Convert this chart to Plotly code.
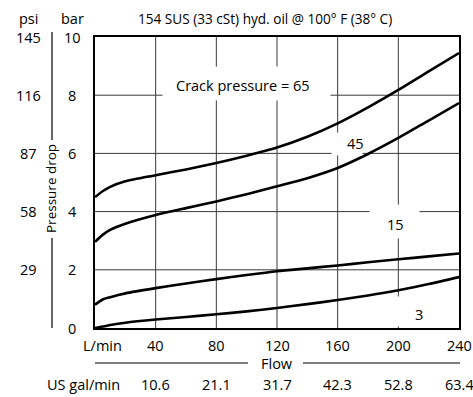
import plotly.graph_objects as go

# ---- data ----
flow = [0, 5, 10, 20, 40, 60, 80, 100, 120, 140, 160, 180, 200, 220, 240]
dp_65 = [4.5, 4.7, 4.85, 5.04, 5.25, 5.45, 5.67, 5.92, 6.2, 6.57, 7.03, 7.58, 8.18, 8.82, 9.45]
dp_45 = [2.96, 3.2, 3.37, 3.58, 3.88, 4.12, 4.35, 4.6, 4.87, 5.15, 5.5, 5.98, 6.53, 7.13, 7.73]
dp_15 = [0.8, 0.98, 1.06, 1.19, 1.37, 1.53, 1.68, 1.82, 1.95, 2.05, 2.15, 2.26, 2.36, 2.46, 2.56]
dp_3 = [0.0, 0.05, 0.1, 0.18, 0.29, 0.38, 0.47, 0.57, 0.69, 0.82, 0.96, 1.12, 1.3, 1.51, 1.75]

bar_ticks = [0, 2, 4, 6, 8, 10]
psi_ticks = [29, 58, 87, 116, 145]
psi_at_bar = [2, 4, 6, 8, 10]
lpm_ticks = [40, 80, 120, 160, 200, 240]
gpm_labels = ["10.6", "21.1", "31.7", "42.3", "52.8", "63.4"]

W, H = 473, 397
PX0, PX1, PY0, PY1 = 95, 459, 37, 328  # plot area in page pixels
L, R, T, B = PX0, W - PX1, PY0, H - PY1
FONT = "Open Sans"
FS = 14.5
GRID = "#3a3a3a"


def px_x(px):
    return (px - PX0) / (PX1 - PX0)


def px_y(py):
    return (PY1 - py) / (PY1 - PY0)


fig = go.Figure()
for ys in (dp_65, dp_45, dp_15, dp_3):
    fig.add_trace(go.Scatter(x=flow, y=ys, mode="lines",
                             line=dict(color="black", width=2.6, shape="spline", smoothing=0.7),
                             showlegend=False, hoverinfo="skip"))

shapes = []
# grid lines at the axis ticks
for v in lpm_ticks[:-1]:
    shapes.append(dict(type="line", xref="x", yref="paper", x0=v, x1=v, y0=0, y1=1,
                       line=dict(color=GRID, width=1), layer="below"))
for b in bar_ticks[1:-1]:
    shapes.append(dict(type="line", xref="paper", yref="y", x0=0, x1=1, y0=b, y1=b,
                       line=dict(color=GRID, width=1), layer="below"))
# pressure-drop bracket and flow rule
for y0, y1 in [(32, 140), (238, 328)]:
    shapes.append(dict(type="line", xref="paper", yref="paper",
                       x0=px_x(52), x1=px_x(52), y0=px_y(y0), y1=px_y(y1),
                       line=dict(color="black", width=1.2)))
for x0, x1 in [(95, 248), (303, 460)]:
    shapes.append(dict(type="line", xref="paper", yref="paper",
                       x0=px_x(x0), x1=px_x(x1), y0=px_y(363), y1=px_y(363),
                       line=dict(color="black", width=1.2)))

ann = []
# white boxes that break the grid under the curve labels
for x0, x1, y0, y1 in [(163, 330, 67, 100), (332, 362, 133, 155),
                       (370, 419, 205, 238), (382, 432, 297, 326)]:
    ann.append(dict(text="&nbsp;", x=px_x((x0 + x1) / 2), y=px_y((y0 + y1) / 2),
                    width=x1 - x0, height=y1 - y0, bgcolor="white", borderpad=0))
ann.append(dict(text="154 SUS (33 cSt) hyd. oil @ 100° F (38° C)", x=px_x(265), y=px_y(18),
                font_size=13.6))
ann.append(dict(text="psi", x=px_x(28), y=px_y(18)))
ann.append(dict(text="bar", x=px_x(72), y=px_y(18)))
for b in bar_ticks:
    ann.append(dict(text=str(b), x=px_x(72), y=b, yref="y"))
for p, b in zip(psi_ticks, psi_at_bar):
    ann.append(dict(text=str(p), x=px_x(28), y=b, yref="y"))
ann.append(dict(text="Pressure drop", x=px_x(51), y=px_y(189), textangle=-90, font_size=13.5))
ann.append(dict(text="L/min", x=px_x(102), y=px_y(345)))
for v in lpm_ticks:
    ann.append(dict(text=str(v), x=v, xref="x", y=px_y(345)))
ann.append(dict(text="Flow", x=0.5, y=px_y(363)))
ann.append(dict(text="US gal/min", x=px_x(83), y=px_y(384)))
for v, g in zip(lpm_ticks, gpm_labels):
    ann.append(dict(text=g, x=v, xref="x", y=px_y(384)))
ann.append(dict(text="Crack pressure = 65", x=px_x(243), y=px_y(86)))
ann.append(dict(text="45", x=px_x(355), y=px_y(143)))
ann.append(dict(text="15", x=px_x(395), y=px_y(225)))
ann.append(dict(text="3", x=px_x(419), y=px_y(314)))

for a in ann:
    a.setdefault("xref", "paper")
    a.setdefault("yref", "paper")
    size = a.pop("font_size", FS)
    a.update(showarrow=False, xanchor="center", yanchor="middle",
             font=dict(family=FONT, size=size, color="black"))

fig.update_layout(
    width=W, height=H, margin=dict(l=L, r=R, t=T, b=B),
    paper_bgcolor="white", plot_bgcolor="white",
    annotations=ann, shapes=shapes,
    xaxis=dict(range=[0, 240], tickvals=lpm_ticks, showticklabels=False, ticks="",
               showgrid=False, zeroline=False,
               showline=True, mirror=True, linecolor="black", linewidth=1.5, fixedrange=True),
    yaxis=dict(range=[0, 10], tickvals=bar_ticks, showticklabels=False, ticks="",
               showgrid=False, zeroline=False,
               showline=True, mirror=True, linecolor="black", linewidth=1.5, fixedrange=True),
    showlegend=False,
)

fig.write_html("out.html", config={"displayModeBar": False},
               post_script="document.body.style.margin='0px';document.body.style.overflow='hidden';")
